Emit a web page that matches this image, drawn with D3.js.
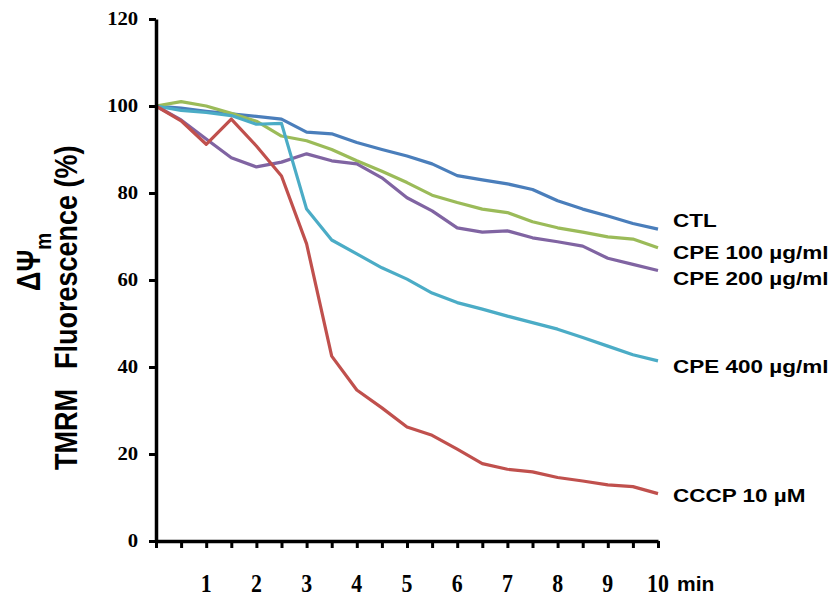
<!DOCTYPE html>
<html>
<head>
<meta charset="utf-8">
<script src="https://cdn.jsdelivr.net/npm/d3@7"></script>
<style>
  body { margin: 0; background: #fff; }
</style>
</head>
<body>
<div id="chart"></div>
<script>
// time points (min)
const times = [0, 0.5, 1, 1.5, 2, 2.5, 3, 3.5, 4, 4.5, 5, 5.5, 6, 6.5, 7, 7.5, 8, 8.5, 9, 9.5, 10];

// TMRM fluorescence (%) per series
const ctl    = [100, 99.5, 98.8, 98.2, 97.6, 97, 94, 93.6, 91.6, 90, 88.5, 86.7, 84, 83, 82.1, 80.8, 78.2, 76.3, 74.7, 73, 71.7];
const cpe100 = [100, 101, 100, 98.3, 96.5, 93.1, 92, 90, 87.4, 85, 82.4, 79.5, 77.8, 76.3, 75.5, 73.4, 72, 71, 69.9, 69.4, 67.4];
const cpe200 = [100, 96.8, 92.4, 88.1, 86, 87.1, 89, 87.4, 86.7, 83.5, 78.9, 75.9, 72, 71, 71.3, 69.7, 68.8, 67.8, 65, 63.6, 62.2];
const cpe400 = [100, 99, 98.5, 97.8, 95.8, 96, 76.3, 69.2, 66, 62.8, 60.2, 57, 54.8, 53.3, 51.7, 50.2, 48.7, 46.8, 44.8, 42.8, 41.4];
const cccp   = [100, 96.6, 91.2, 97, 90.8, 83.9, 68.3, 42.5, 34.7, 30.6, 26.2, 24.3, 21.1, 17.8, 16.5, 15.9, 14.6, 13.8, 12.9, 12.5, 10.9];

const seriesNames = ["CTL", "CPE 100 µg/ml", "CPE 200 µg/ml", "CPE 400 µg/ml", "CCCP 10 µM"];
const seriesValues = [ctl, cpe100, cpe200, cpe400, cccp];
const colors = ["#4a7ebb", "#9bbb59", "#8064a2", "#4bacc6", "#c0504d"];

const yTicks = [0, 20, 40, 60, 80, 100, 120];
const xMinorTicks = times;
const xLabels = [1, 2, 3, 4, 5, 6, 7, 8, 9, 10];

const width = 835;
const height = 603;

const x = d3.scaleLinear().domain([0, 10]).range([156, 658]);
const y = d3.scaleLinear().domain([0, 120]).range([541, 19]);

const svg = d3.select("#chart")
    .append("svg")
    .attr("width", width)
    .attr("height", height);

// lines
const line = d3.line()
    .x((d, i) => x(times[i]))
    .y(d => y(d));

svg.selectAll("path.series")
    .data(seriesValues)
    .enter()
    .append("path")
    .attr("class", "series")
    .attr("d", line)
    .attr("fill", "none")
    .attr("stroke", (d, i) => colors[i])
    .attr("stroke-width", 3.2)
    .attr("stroke-linejoin", "round");

// y axis
const yAxis = svg.append("g")
    .attr("transform", `translate(${x(0)},0)`)
    .call(d3.axisLeft(y).tickValues(yTicks).tickSize(7).tickSizeOuter(0).tickPadding(8.5));

yAxis.select(".domain").attr("stroke", "#000").attr("stroke-width", 3.5);
yAxis.selectAll(".tick line").attr("stroke", "#000").attr("stroke-width", 3);
yAxis.selectAll(".tick text")
    .attr("font-family", "'Liberation Serif', 'Times New Roman', serif")
    .attr("font-weight", "bold")
    .attr("font-size", 18)
    .attr("fill", "#000")
    .attr("transform", "scale(1.15,1)");

// x axis
const xAxis = svg.append("g")
    .attr("transform", `translate(0,${y(0)})`)
    .call(d3.axisBottom(x).tickValues(xMinorTicks).tickSize(7).tickSizeOuter(0).tickFormat(""));

xAxis.select(".domain").attr("stroke", "#000").attr("stroke-width", 3.5);
xAxis.selectAll(".tick line").attr("stroke", "#000").attr("stroke-width", 3);

svg.selectAll("text.xlabel")
    .data(xLabels)
    .enter()
    .append("text")
    .attr("class", "xlabel")
    .attr("transform", d => `translate(${x(d)},592) scale(0.95,1.1)`)
    .attr("text-anchor", "middle")
    .attr("font-family", "'Liberation Serif', 'Times New Roman', serif")
    .attr("font-weight", "bold")
    .attr("font-size", 23)
    .text(d => d);

svg.append("text")
    .attr("x", 677)
    .attr("y", 591)
    .attr("font-family", "'Liberation Sans', Arial, sans-serif")
    .attr("font-weight", "bold")
    .attr("font-size", 21)
    .text("min");

// series labels at line ends
const labelY = [227, 259, 285, 373, 502];
svg.selectAll("text.serieslabel")
    .data(seriesNames)
    .enter()
    .append("text")
    .attr("class", "serieslabel")
    .attr("transform", (d, i) => `translate(673,${labelY[i]}) scale(1.25,1)`)
    .attr("font-family", "'Liberation Sans', Arial, sans-serif")
    .attr("font-weight", "bold")
    .attr("font-size", 18)
    .text(d => d);

// y axis title (two rotated lines)
const title1 = svg.append("text")
    .attr("transform", "translate(40,291) scale(1.2,1) rotate(-90)")
    .attr("font-family", "'Liberation Sans', Arial, sans-serif")
    .attr("font-weight", "bold")
    .attr("font-size", 27);
title1.append("tspan").text("ΔΨ");
title1.append("tspan").attr("dy", 9).attr("font-size", 19).text("m");

const title2 = svg.append("text")
    .attr("transform", "translate(77,470) scale(1.15,1) rotate(-90)")
    .attr("font-family", "'Liberation Sans', Arial, sans-serif")
    .attr("font-weight", "bold")
    .attr("font-size", 27);
title2.append("tspan").text("TMRM");
title2.append("tspan").attr("dx", 20).text("Fluorescence (%)");
</script>
</body>
</html>
